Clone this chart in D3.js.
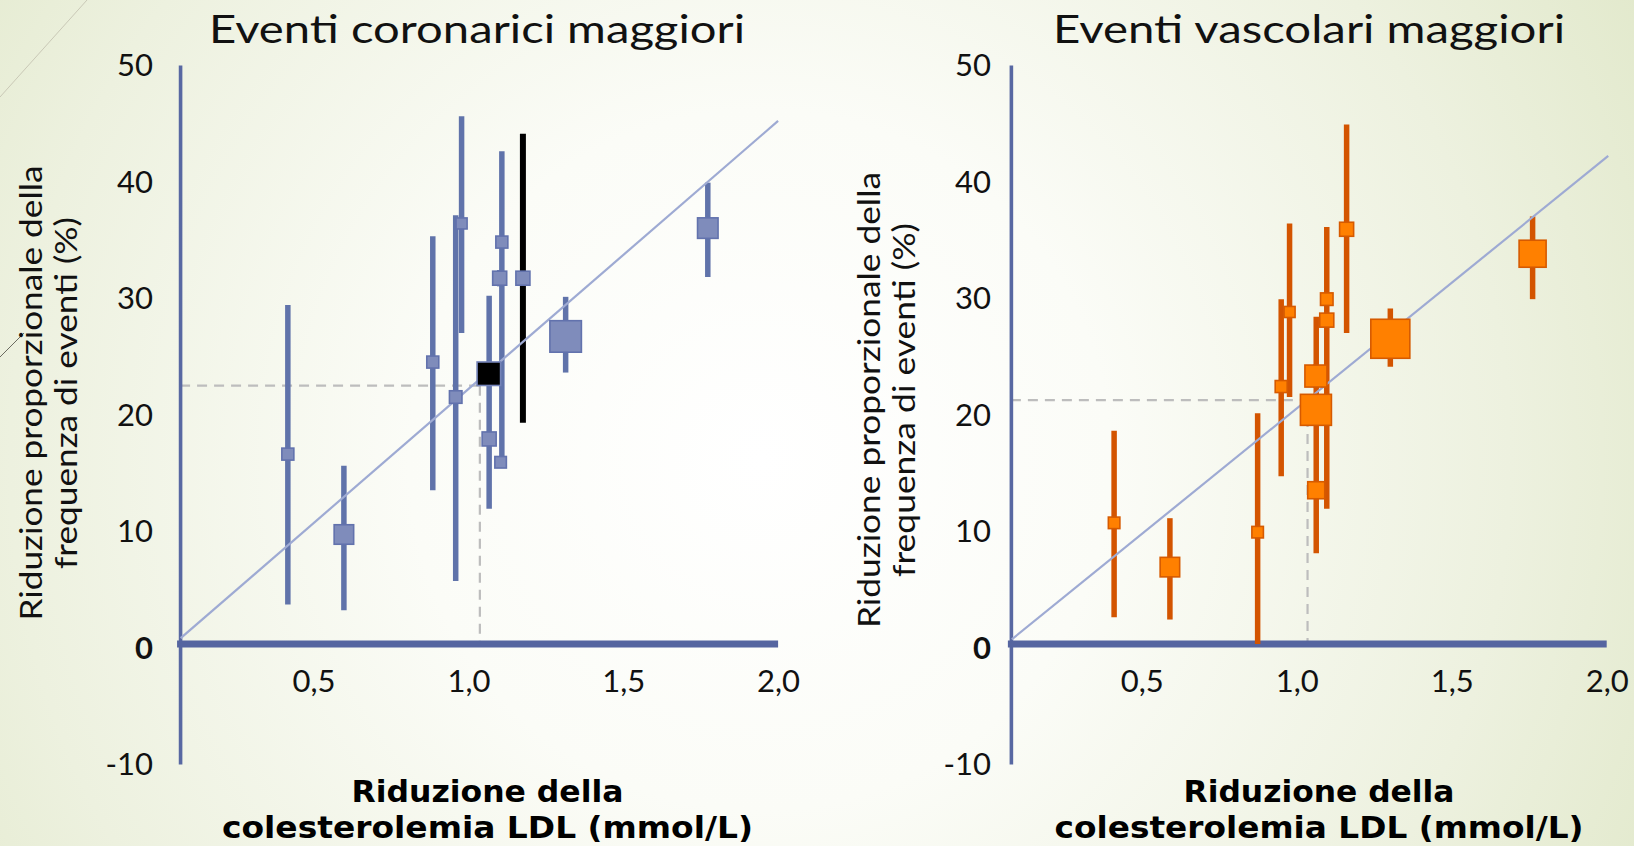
<!DOCTYPE html>
<html><head><meta charset="utf-8">
<script src="https://cdn.jsdelivr.net/npm/d3@7"></script>
<style>html,body{margin:0;padding:0;overflow:hidden;background:#fff}</style>
</head><body>
<svg id="chart" width="1634" height="846"></svg>
<script>
// ---------------- DATA ----------------
const xTicks = [0.5, 1.0, 1.5, 2.0];
const yTicks = [-10, 0, 10, 20, 30, 40, 50];

const coronaryTitle = "Eventi coronarici maggiori";
const vascularTitle = "Eventi vascolari maggiori";
const yTitleCoronary = ["Riduzione proporzionale della", "frequenza di eventi (%)"];
const yTitleVascular = ["Riduzione proporzionale della", "frequenza di eventi  (%)"];
const xTitleLines = ["Riduzione della", "colesterolemia LDL (mmol/L)"];

// Eventi coronarici maggiori: LDL reduction (x), proportional reduction (y), CI, weight
const coronaryX      = [0.417, 0.598, 0.885, 0.959, 0.978, 1.067, 1.108, 1.101, 1.104, 1.176, 1.314, 1.773];
const coronaryY      = [16.6, 9.7, 24.5, 21.5, 36.4, 17.9, 34.8, 31.7, 15.9, 31.7, 26.7, 36.0];
const coronaryLo     = [3.7, 3.2, 13.5, 5.7, 27.0, 11.9, 15.4, 31.0, 15.5, 19.3, 23.6, 31.8];
const coronaryHi     = [29.4, 15.6, 35.3, 37.1, 45.6, 30.2, 42.6, 32.4, 16.4, 44.1, 30.1, 39.9];
const coronaryWeight = [9.0, 23.8, 9.0, 9.8, 7.6, 12.3, 9.0, 12.3, 8.3, 12.3, 62.0, 26.3];
const coronaryPooled = {x: 1.066, y: 23.5, weight: 34.5};
const coronaryRef    = {x: 1.037, y: 22.47};
const coronaryTrendX = [0.071, 2.0];
const coronaryTrendY = [0.8, 45.2];

// Eventi vascolari maggiori
const vascularX      = [0.411, 0.591, 0.874, 0.950, 0.977, 1.062, 1.062, 1.063, 1.097, 1.097, 1.161, 1.302, 1.761];
const vascularY      = [10.7, 6.9, 9.9, 22.4, 28.8, 23.3, 20.4, 13.5, 29.9, 28.1, 35.9, 26.5, 33.8];
const vascularLo     = [2.6, 2.4, 0.3, 14.7, 21.5, 22.3, 19.4, 8.1, 29.5, 11.9, 27.0, 24.1, 29.9];
const vascularHi     = [18.6, 11.1, 20.1, 29.9, 36.4, 24.3, 21.4, 28.4, 30.4, 36.1, 44.9, 29.1, 37.0];
const vascularWeight = [8.3, 23.8, 8.3, 9.0, 7.6, 30.3, 60.1, 18.1, 9.8, 12.3, 12.3, 95.1, 45.6];
const vascularRef    = {x: 1.035, y: 21.24};
const vascularTrendX = [0.081, 2.005];
const vascularTrendY = [0.7, 42.2];

// ---------------- DRAW ----------------
const W = 1634, H = 846;
const FONT = "Lato, 'Noto Sans', 'DejaVu Sans', sans-serif";
const BOLD = "'DejaVu Sans', 'Noto Sans', sans-serif";
const svg = d3.select('#chart');
const defs = svg.append('defs');
const bg = defs.append('radialGradient').attr('id', 'bg')
  .attr('gradientUnits', 'userSpaceOnUse')
  .attr('cx', 760).attr('cy', 460).attr('r', 1000);
bg.append('stop').attr('offset', '0%').attr('stop-color', '#ffffff');
bg.append('stop').attr('offset', '35%').attr('stop-color', '#fbfcf7');
bg.append('stop').attr('offset', '75%').attr('stop-color', '#edf1df');
bg.append('stop').attr('offset', '100%').attr('stop-color', '#e2e9cc');
svg.append('rect').attr('width', W).attr('height', H).attr('fill', 'url(#bg)');

// theme decoration lines
svg.append('line').attr('x1', 0).attr('y1', 97).attr('x2', 87).attr('y2', 0)
  .attr('stroke', '#c9c8b6').attr('stroke-width', 1);
svg.append('line').attr('x1', 0).attr('y1', 357).attr('x2', 24).attr('y2', 333)
  .attr('stroke', '#6b6b60').attr('stroke-width', 1);

const sizeScale = d3.scaleSqrt().domain([0, 100]).range([0, 40]);
const yScale = d3.scaleLinear().domain([-10, 50]).range([764, 65]);
const fmt = d => d3.format('.1f')(d).replace('.', ',');

function panel(o) {
  const x = d3.scaleLinear().domain([0, 2]).range(o.xRange);
  const y = yScale;
  const g = svg.append('g');
  const ax = x(o.axisX), ay = y(o.axisY);

  // dashed reference lines
  g.append('line').attr('x1', ax).attr('x2', x(o.ref.x))
    .attr('y1', y(o.ref.y)).attr('y2', y(o.ref.y))
    .attr('stroke', '#bdbdbd').attr('stroke-width', 2.2).attr('stroke-dasharray', '10,7');
  g.append('line').attr('x1', x(o.ref.x)).attr('x2', x(o.ref.x))
    .attr('y1', y(o.ref.y)).attr('y2', ay - 3)
    .attr('stroke', '#bdbdbd').attr('stroke-width', 2.2).attr('stroke-dasharray', '10,7');

  // y axis
  const yAxis = g.append('g').attr('transform', `translate(${ax},0)`)
    .call(d3.axisLeft(y).tickValues(yTicks).tickSize(0).tickPadding(o.yPad).tickFormat(d => String(d)));
  yAxis.select('.domain').attr('stroke', '#5868a2').attr('stroke-width', 3.6);
  yAxis.selectAll('text').attr('font-family', FONT).attr('font-size', 31).attr('fill', '#111')
    .attr('dy', '0.34em')
    .attr('font-weight', d => d === 0 ? 'bold' : 'normal');

  // x axis
  const xAxis = g.append('g').attr('transform', `translate(0,${ay})`)
    .call(d3.axisBottom(x).tickValues(xTicks).tickSize(0).tickPadding(26).tickFormat(fmt));
  xAxis.select('.domain').remove();
  xAxis.selectAll('text').attr('font-family', FONT).attr('font-size', 31).attr('fill', '#111');
  g.append('line').attr('x1', ax - 3).attr('x2', x(2)).attr('y1', ay).attr('y2', ay)
    .attr('stroke', '#5565a0').attr('stroke-width', 7);

  // CI lines
  const rows = o.xs.map((v, i) => ({x: v, y: o.ys[i], lo: o.lo[i], hi: o.hi[i], w: o.wt[i], i}));
  g.selectAll('line.ci').data(rows).join('line').attr('class', 'ci')
    .attr('x1', d => x(d.x)).attr('x2', d => x(d.x))
    .attr('y1', d => y(d.hi)).attr('y2', d => y(d.lo))
    .attr('stroke', d => d.i === o.blackIndex ? '#000' : o.lineColor)
    .attr('stroke-width', d => d.i === o.blackIndex ? 6 : 5.5);

  // trend line
  g.append('line').attr('x1', x(o.trendX[0])).attr('y1', y(o.trendY[0]))
    .attr('x2', x(o.trendX[1])).attr('y2', y(o.trendY[1]))
    .attr('stroke', '#9eaad3').attr('stroke-width', 2.2);

  // markers
  g.selectAll('rect.mk').data(rows).join('rect').attr('class', 'mk')
    .attr('x', d => x(d.x) - sizeScale(d.w) / 2)
    .attr('y', d => y(d.y) - sizeScale(d.w) / 2)
    .attr('width', d => sizeScale(d.w)).attr('height', d => sizeScale(d.w))
    .attr('fill', o.fill).attr('stroke', o.stroke).attr('stroke-width', 1.6);

  if (o.pooled) {
    const s = sizeScale(o.pooled.weight);
    g.append('rect').attr('x', x(o.pooled.x) - s / 2).attr('y', y(o.pooled.y) - s / 2)
      .attr('width', s).attr('height', s)
      .attr('fill', '#000').attr('stroke', '#7483b8').attr('stroke-width', 1.6);
  }

  // titles
  g.append('text').attr('x', o.titleX).attr('y', 43).attr('text-anchor', 'middle')
    .attr('font-family', FONT).attr('font-size', 39).attr('fill', '#111')
    .attr('textLength', o.titleLen).attr('lengthAdjust', 'spacingAndGlyphs')
    .text(o.title);

  o.yTitle.forEach((t, k) => {
    const bx = o.yTitleX[k], cy = o.yTitleY;
    g.append('text').attr('x', bx).attr('y', cy).attr('text-anchor', 'middle')
      .attr('transform', `rotate(-90,${bx},${cy})`)
      .attr('font-family', FONT).attr('font-size', 31).attr('fill', '#111')
      .attr('textLength', o.yTitleLen[k]).attr('lengthAdjust', 'spacingAndGlyphs')
      .text(t);
  });

  xTitleLines.forEach((t, k) => {
    g.append('text').attr('x', o.xTitleX).attr('y', [802, 838][k]).attr('text-anchor', 'middle')
      .attr('font-family', BOLD).attr('font-weight', 'bold').attr('font-size', 30).attr('fill', '#000')
      .attr('textLength', o.xTitleLen[k]).attr('lengthAdjust', 'spacingAndGlyphs')
      .text(t);
  });
}

panel({
  xRange: [158.7, 778.1], axisX: 0.069, axisY: 0.3, yPad: 27,
  xs: coronaryX, ys: coronaryY, lo: coronaryLo, hi: coronaryHi, wt: coronaryWeight,
  pooled: coronaryPooled, ref: coronaryRef, trendX: coronaryTrendX, trendY: coronaryTrendY,
  blackIndex: 9, lineColor: '#6073aa', fill: '#7f8cbb', stroke: '#6272ad',
  title: coronaryTitle, titleX: 477, titleLen: 536,
  yTitle: yTitleCoronary, yTitleX: [42, 77], yTitleY: 393, yTitleLen: [455, 352],
  xTitleX: 487.5, xTitleLen: [272, 531]
});

panel({
  xRange: [986.7, 1606.7], axisX: 0.078, axisY: 0.3, yPad: 20,
  xs: vascularX, ys: vascularY, lo: vascularLo, hi: vascularHi, wt: vascularWeight,
  pooled: null, ref: vascularRef, trendX: vascularTrendX, trendY: vascularTrendY,
  blackIndex: -1, lineColor: '#d35400', fill: '#ff8000', stroke: '#d65a00',
  title: vascularTitle, titleX: 1309, titleLen: 512,
  yTitle: yTitleVascular, yTitleX: [880, 915], yTitleY: 400, yTitleLen: [456, 354],
  xTitleX: 1319, xTitleLen: [271, 529]
});
</script>
</body></html>
